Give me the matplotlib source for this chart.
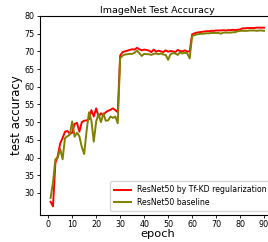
import numpy as np
import matplotlib
matplotlib.use("Agg")
import matplotlib.pyplot as plt

# accuracy per epoch
epochs = list(range(1, 91))

tfkd = [27.5, 26.2, 38.5, 40.5, 44.0, 45.5, 47.3, 47.5, 46.7, 47.0,
        49.5, 49.8, 47.3, 50.0, 50.4, 50.5, 50.8, 53.4, 51.6, 53.9,
        51.5, 52.5, 52.0, 52.8, 53.2, 53.5, 53.9, 53.4, 52.8, 68.8,
        69.8, 70.0, 70.2, 70.4, 70.6, 70.5, 71.0, 70.6, 70.3, 70.5,
        70.4, 70.2, 69.8, 70.5, 69.9, 70.2, 70.0, 69.8, 70.3, 69.9,
        70.1, 70.0, 69.8, 70.4, 70.1, 70.0, 70.3, 69.9, 70.0, 74.8,
        75.1, 75.3, 75.4, 75.5, 75.6, 75.7, 75.7, 75.8, 75.8, 75.9,
        75.9, 75.9, 76.0, 75.9, 76.0, 76.0, 76.1, 76.0, 76.1, 76.2,
        76.5, 76.5, 76.6, 76.6, 76.6, 76.6, 76.7, 76.7, 76.7, 76.7]

baseline = [28.6, 33.0, 39.5, 40.0, 42.5, 39.5, 45.5, 46.0, 46.5, 50.2,
            45.9, 47.0, 46.0, 43.0, 41.0, 47.5, 52.8, 50.5, 44.5, 50.2,
            52.3, 50.0, 52.5, 50.4, 50.5, 51.6, 51.2, 51.6, 49.7, 68.0,
            68.8, 69.1, 69.2, 69.3, 69.3, 69.6, 70.2, 69.5, 68.7, 69.3,
            69.2, 69.2, 69.0, 69.3, 69.4, 69.2, 69.4, 69.1, 69.0, 67.6,
            69.2, 69.5, 69.4, 69.0, 69.7, 69.4, 69.6, 69.4, 68.0, 74.3,
            74.6, 74.8, 74.9, 75.0, 75.0, 75.1, 75.1, 75.2, 75.2, 75.2,
            75.2, 75.0, 75.3, 75.3, 75.3, 75.3, 75.4, 75.4, 75.7, 75.8,
            75.8, 75.8, 75.8, 75.9, 75.9, 75.9, 75.8, 75.9, 75.9, 75.8]

fig = plt.figure(figsize=(2.68, 2.42), dpi=100)
ax = fig.add_axes([0.149, 0.112, 0.876, 0.822])

ax.plot(epochs, tfkd, color="red", lw=1.4, label="ResNet50 by Tf-KD regularization")
ax.plot(epochs, baseline, color="olive", lw=1.4, label="ResNet50 baseline")

ax.set_xlim(-3.45, 94.45)
ax.set_ylim(23.8, 80)
ax.set_xticks(range(0, 91, 10))
ax.set_yticks(range(30, 81, 5))
ax.tick_params(labelsize=5.8, length=2.5, width=0.6, pad=1.5)
for s in ax.spines.values():
    s.set_linewidth(0.8)

ax.set_title("ImageNet Test Accuracy", fontsize=6.8, pad=2)
ax.set_xlabel("epoch", fontsize=8.2, labelpad=0)
ax.set_ylabel("test accuracy", fontsize=8.5, labelpad=1)
ax.legend(loc="lower right", fontsize=5.6, handlelength=2.2, borderpad=0.5,
          bbox_to_anchor=(1.0, 0.0))

fig.savefig("out.png", dpi=100)
